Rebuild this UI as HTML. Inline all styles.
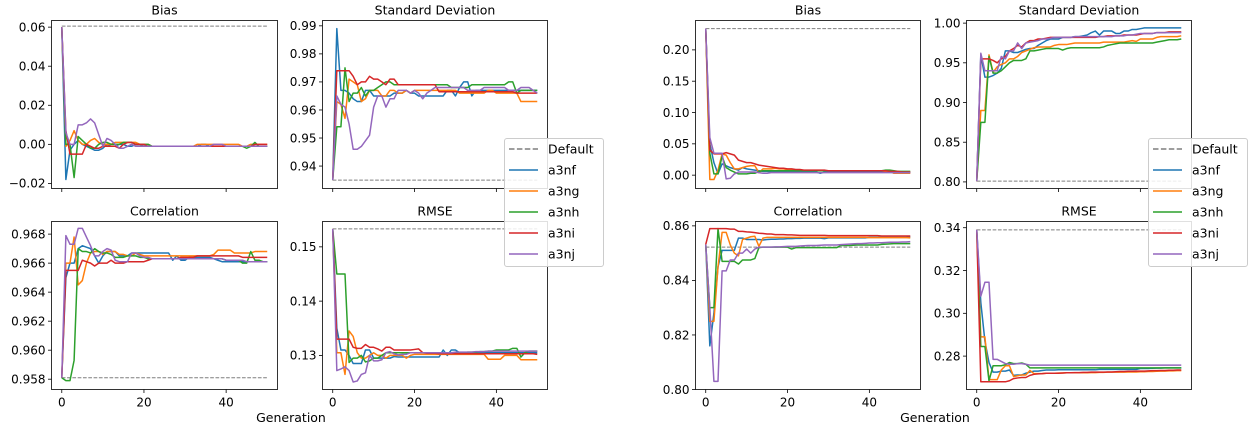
<!DOCTYPE html>
<html><head><meta charset="utf-8">
<style>
html,body{margin:0;padding:0;background:#fff;}
svg{display:block;font-family:"DejaVu Sans","Liberation Sans",sans-serif;}
</style></head>
<body>
<svg id="fig" width="1250" height="423" viewBox="0 0 1250 423" xmlns="http://www.w3.org/2000/svg"></svg>
<script>
const generations = Array.from({length:51},(_,i)=>i);
const seriesNames = ["a3nf","a3ng","a3nh","a3ni","a3nj"];
const xTickValues = [0,20,40];

// Left figure: Bias
const LB_f=[0.06,-0.018,-0.003,0,0.002,0,-0.001,-0.002,-0.003,-0.003,-0.002,0,-0.001,-0.001,0,0,-0.001,-0.001,0,0,-0.001,-0.001,-0.001,-0.001,-0.001,-0.001,-0.001,-0.001,-0.001,-0.001,-0.001,-0.001,-0.001,-0.001,0,0,-0.001,-0.001,-0.001,-0.001,-0.001,-0.001,-0.001,-0.001,-0.001,-0.001,-0.001,-0.001,-0.001,-0.001,-0.001];
const LB_g=[0.06,-0.001,0.002,0.007,0.002,0,0,0.002,0.003,0.001,0,0,0,0.001,0.001,0.001,0.001,0.001,0.001,0,0,0,-0.001,-0.001,-0.001,-0.001,-0.001,-0.001,-0.001,-0.001,-0.001,-0.001,-0.001,0,0,0,0,0,0,0,0,0,0,0,-0.001,-0.001,0,0,0,0,0];
const LB_h=[0.06,0,0,-0.017,0.004,0.002,0,-0.002,-0.002,0,0.001,0.001,0,0,0,0.001,0.001,0.001,0,0,0,0,-0.001,-0.001,-0.001,-0.001,-0.001,-0.001,-0.001,-0.001,-0.001,-0.001,-0.001,-0.001,-0.001,-0.001,-0.001,-0.001,-0.001,-0.001,-0.001,-0.001,-0.001,-0.001,-0.001,-0.002,-0.001,0.001,-0.001,-0.001,-0.001];
const LB_i=[0.06,0.007,-0.005,-0.005,-0.005,-0.005,0,-0.001,-0.002,-0.002,-0.001,-0.001,-0.001,-0.001,-0.002,0,0.001,0.001,0,0,0,-0.001,-0.001,-0.001,-0.001,-0.001,-0.001,-0.001,-0.001,-0.001,-0.001,-0.001,-0.001,-0.001,-0.001,-0.001,-0.001,-0.001,-0.001,-0.001,-0.001,-0.001,-0.001,-0.001,-0.001,-0.001,-0.001,0,0,0,0];
const LB_j=[0.06,0.006,0,0,0.010,0.010,0.011,0.013,0.011,0.005,-0.001,0.003,0.002,0,-0.002,-0.002,-0.001,0,-0.001,-0.001,-0.001,-0.001,-0.001,-0.001,-0.001,-0.001,-0.001,-0.001,-0.001,-0.001,-0.001,-0.001,-0.001,-0.001,-0.001,-0.001,-0.001,0,0,0,-0.001,-0.001,-0.001,-0.001,-0.001,-0.001,-0.001,-0.001,-0.001,-0.001,-0.001];
// Left: Standard deviation
const LSD_f=[0.935,0.989,0.967,0.967,0.966,0.964,0.963,0.963,0.967,0.967,0.965,0.965,0.965,0.965,0.965,0.966,0.966,0.966,0.967,0.966,0.966,0.965,0.965,0.965,0.965,0.965,0.965,0.965,0.967,0.967,0.965,0.968,0.970,0.970,0.965,0.967,0.967,0.967,0.967,0.967,0.967,0.967,0.967,0.967,0.967,0.967,0.967,0.967,0.967,0.967,0.967];
const LSD_g=[0.935,0.963,0.962,0.957,0.971,0.970,0.969,0.963,0.964,0.967,0.967,0.967,0.965,0.965,0.967,0.967,0.966,0.966,0.967,0.966,0.967,0.967,0.967,0.967,0.967,0.967,0.967,0.967,0.967,0.967,0.967,0.966,0.966,0.966,0.966,0.966,0.966,0.966,0.967,0.967,0.966,0.966,0.966,0.966,0.966,0.966,0.963,0.963,0.963,0.963,0.963];
const LSD_h=[0.935,0.954,0.954,0.975,0.963,0.966,0.966,0.968,0.965,0.967,0.967,0.968,0.969,0.970,0.970,0.969,0.969,0.969,0.969,0.969,0.969,0.969,0.969,0.969,0.969,0.969,0.969,0.969,0.969,0.968,0.968,0.968,0.968,0.968,0.969,0.969,0.969,0.969,0.969,0.969,0.969,0.969,0.969,0.970,0.970,0.966,0.967,0.967,0.967,0.967,0.967];
const LSD_i=[0.935,0.974,0.974,0.974,0.974,0.972,0.969,0.970,0.970,0.972,0.971,0.971,0.970,0.969,0.971,0.971,0.969,0.969,0.969,0.969,0.969,0.969,0.969,0.969,0.969,0.969,0.9665,0.9665,0.9665,0.9665,0.9665,0.9665,0.9665,0.9665,0.9665,0.9665,0.9665,0.9665,0.9665,0.9665,0.9665,0.9665,0.9665,0.9665,0.9665,0.966,0.966,0.966,0.966,0.966,0.966];
const LSD_j=[0.935,0.965,0.962,0.961,0.955,0.946,0.946,0.947,0.949,0.951,0.961,0.965,0.965,0.961,0.964,0.964,0.967,0.967,0.967,0.966,0.967,0.966,0.964,0.966,0.967,0.968,0.968,0.968,0.968,0.968,0.968,0.968,0.968,0.967,0.967,0.967,0.967,0.968,0.968,0.968,0.968,0.968,0.968,0.967,0.967,0.967,0.968,0.968,0.968,0.967,0.966];
// Left: Correlation
const LC_f=[0.9581,0.965,0.966,0.966,0.967,0.9672,0.9671,0.967,0.9665,0.966,0.9665,0.9668,0.9668,0.9668,0.9665,0.9665,0.9665,0.9667,0.9667,0.9667,0.9667,0.9667,0.9667,0.9667,0.9667,0.9667,0.9667,0.9662,0.9665,0.9662,0.9662,0.9664,0.9664,0.9664,0.9664,0.9664,0.9664,0.9663,0.9662,0.9661,0.9661,0.9661,0.9661,0.9661,0.9661,0.9661,0.9661,0.9661,0.9661,0.9661,0.9661];
const LC_g=[0.9581,0.966,0.966,0.9678,0.9645,0.9648,0.966,0.9667,0.9668,0.9668,0.9666,0.9668,0.9668,0.9668,0.9666,0.9666,0.9665,0.9665,0.9667,0.9666,0.9665,0.9665,0.9665,0.9665,0.9665,0.9665,0.9665,0.9665,0.9665,0.9665,0.9665,0.9665,0.9665,0.9665,0.9665,0.9665,0.9665,0.9666,0.9669,0.9669,0.9669,0.9669,0.9667,0.9667,0.9667,0.9667,0.9667,0.9668,0.9668,0.9668,0.9668];
const LC_h=[0.9581,0.9579,0.9579,0.9593,0.967,0.9668,0.9668,0.9667,0.967,0.9668,0.9667,0.9667,0.9666,0.9664,0.9664,0.9664,0.9665,0.9665,0.9665,0.9664,0.9664,0.9663,0.9663,0.9663,0.9663,0.9663,0.9663,0.9663,0.9663,0.9663,0.9663,0.9663,0.9663,0.9663,0.9663,0.9663,0.9663,0.9663,0.9663,0.9663,0.9662,0.9662,0.9662,0.9662,0.966,0.966,0.9668,0.9662,0.9662,0.9661,0.9661];
const LC_i=[0.9581,0.9655,0.9655,0.9655,0.9655,0.9662,0.9661,0.966,0.9658,0.966,0.966,0.966,0.9662,0.966,0.966,0.966,0.9661,0.9661,0.9661,0.9661,0.9661,0.9662,0.9663,0.9663,0.9663,0.9663,0.9663,0.9663,0.9663,0.9664,0.9664,0.9664,0.9664,0.9665,0.9665,0.9665,0.9665,0.9665,0.9665,0.9665,0.9665,0.9665,0.9665,0.9665,0.9664,0.9664,0.9664,0.9664,0.9664,0.9664,0.9664];
const LC_j=[0.9581,0.9679,0.9673,0.9673,0.9684,0.9684,0.9678,0.9672,0.9665,0.9665,0.9668,0.967,0.9669,0.9662,0.9661,0.9661,0.9661,0.9667,0.9667,0.9665,0.9664,0.9664,0.9663,0.9663,0.9663,0.9663,0.9663,0.9663,0.9663,0.9663,0.9663,0.9663,0.9663,0.9663,0.9663,0.9663,0.9663,0.9663,0.9663,0.9663,0.9662,0.9662,0.9662,0.9662,0.9662,0.9661,0.9661,0.9661,0.9661,0.9661,0.9661];
// Left: RMSE
const LR_f=[0.1533,0.135,0.131,0.131,0.130,0.1285,0.1285,0.1285,0.131,0.131,0.1295,0.1295,0.1295,0.1295,0.1295,0.1298,0.1297,0.1297,0.1297,0.1297,0.1297,0.1297,0.1297,0.1297,0.1297,0.1297,0.1297,0.131,0.130,0.131,0.131,0.1305,0.1305,0.1305,0.1305,0.1305,0.1305,0.1305,0.1305,0.1305,0.1305,0.1305,0.1305,0.1305,0.1305,0.1305,0.1305,0.1305,0.1305,0.1305,0.1305];
const LR_g=[0.1533,0.1305,0.1305,0.1265,0.1345,0.1335,0.1305,0.1295,0.1295,0.130,0.1305,0.130,0.130,0.1295,0.130,0.130,0.130,0.130,0.1295,0.130,0.1302,0.1302,0.1302,0.1302,0.1302,0.1302,0.1302,0.1302,0.1302,0.1302,0.1302,0.1302,0.1302,0.1302,0.1302,0.1302,0.1302,0.1302,0.1293,0.1293,0.1293,0.1293,0.130,0.130,0.130,0.130,0.1292,0.1292,0.1292,0.1292,0.1292];
const LR_h=[0.1533,0.145,0.145,0.145,0.1287,0.1295,0.1295,0.130,0.1288,0.129,0.1295,0.1295,0.130,0.1305,0.1305,0.1305,0.1305,0.1305,0.1305,0.1305,0.1305,0.1305,0.1305,0.1305,0.1305,0.1305,0.1305,0.1305,0.1305,0.1305,0.1305,0.1305,0.1305,0.1306,0.1306,0.1306,0.1307,0.1307,0.1308,0.1308,0.131,0.131,0.131,0.131,0.1313,0.1313,0.1297,0.1305,0.1308,0.1308,0.1308];
const LR_i=[0.1533,0.133,0.133,0.133,0.133,0.1315,0.1313,0.1313,0.132,0.1315,0.1315,0.1312,0.1308,0.1315,0.1315,0.131,0.131,0.131,0.131,0.131,0.1311,0.1312,0.1305,0.1304,0.1304,0.1304,0.1303,0.1303,0.1303,0.1303,0.1303,0.1303,0.1303,0.1303,0.1303,0.1303,0.1303,0.1303,0.1303,0.1303,0.1303,0.1303,0.1303,0.1303,0.1303,0.1303,0.1303,0.1303,0.1303,0.1303,0.1302];
const LR_j=[0.1533,0.1272,0.1275,0.1279,0.1272,0.1251,0.1253,0.1265,0.1268,0.130,0.129,0.129,0.1292,0.1305,0.1307,0.1303,0.1301,0.1302,0.1302,0.1305,0.1305,0.1305,0.1305,0.1305,0.1305,0.1305,0.1305,0.1305,0.1305,0.1305,0.1306,0.1306,0.1306,0.1306,0.1306,0.1307,0.1307,0.1307,0.1308,0.1308,0.1308,0.1308,0.1308,0.1308,0.1308,0.1308,0.1308,0.1308,0.1308,0.1308,0.1308];
// Right figure: Bias
const RB_f=[0.234,0.05,0.02,0.002,0.018,0.015,0.012,0.01,0.008,0.012,0.01,0.009,0.008,0.007,0.006,0.006,0.005,0.005,0.005,0.005,0.005,0.005,0.005,0.005,0.005,0.005,0.005,0.005,0.003,0.005,0.005,0.005,0.005,0.005,0.005,0.005,0.005,0.005,0.005,0.005,0.005,0.005,0.005,0.005,0.005,0.005,0.005,0.005,0.005,0.005,0.004];
const RB_g=[0.234,-0.007,-0.007,0.008,0.034,0.032,0.02,0.01,0.01,0.012,0.014,0.015,0.015,0.004,0.01,0.01,0.01,0.011,0.01,0.01,0.009,0.009,0.008,0.008,0.007,0.007,0.007,0.007,0.007,0.007,0.007,0.007,0.007,0.007,0.007,0.007,0.007,0.007,0.007,0.007,0.007,0.007,0.007,0.007,0.006,0.006,0.003,0.003,0.003,0.003,0.003];
const RB_h=[0.234,0.035,0.002,0.002,0.03,0.012,0.008,0.005,0.002,0.002,0.002,0.003,0.003,0.006,0.007,0.007,0.007,0.007,0.007,0.007,0.007,0.007,0.007,0.007,0.007,0.007,0.007,0.007,0.007,0.007,0.007,0.007,0.007,0.007,0.007,0.007,0.007,0.007,0.007,0.007,0.007,0.007,0.007,0.007,0.008,0.008,0.007,0.006,0.006,0.006,0.006];
const RB_i=[0.234,0.04,0.034,0.034,0.034,0.036,0.034,0.032,0.024,0.022,0.02,0.02,0.018,0.016,0.015,0.014,0.013,0.012,0.011,0.011,0.01,0.01,0.009,0.009,0.008,0.008,0.008,0.008,0.008,0.008,0.007,0.007,0.007,0.007,0.007,0.007,0.007,0.007,0.007,0.007,0.007,0.007,0.007,0.007,0.007,0.006,0.006,0.006,0.005,0.005,0.005];
const RB_j=[0.234,0.06,0.035,0.035,0.035,-0.006,-0.005,0.002,0.005,0.005,0.005,0.005,0.005,0.004,0.003,0.003,0.004,0.004,0.004,0.004,0.004,0.004,0.004,0.004,0.004,0.004,0.004,0.004,0.004,0.004,0.004,0.004,0.004,0.004,0.004,0.004,0.004,0.004,0.004,0.004,0.004,0.004,0.004,0.004,0.004,0.004,0.004,0.004,0.004,0.004,0.004];
// Right: Standard deviation
const RSD_f=[0.801,0.96,0.932,0.932,0.934,0.937,0.943,0.965,0.965,0.963,0.963,0.965,0.967,0.968,0.968,0.972,0.975,0.978,0.98,0.98,0.98,0.982,0.982,0.982,0.983,0.983,0.984,0.985,0.988,0.99,0.985,0.99,0.99,0.99,0.987,0.987,0.99,0.99,0.992,0.992,0.993,0.994,0.994,0.994,0.994,0.994,0.994,0.994,0.994,0.994,0.994];
const RSD_g=[0.801,0.89,0.89,0.96,0.938,0.945,0.948,0.95,0.955,0.955,0.958,0.963,0.965,0.967,0.969,0.97,0.97,0.97,0.97,0.972,0.973,0.973,0.973,0.974,0.975,0.975,0.975,0.975,0.975,0.975,0.975,0.976,0.976,0.976,0.976,0.976,0.976,0.977,0.978,0.977,0.98,0.98,0.98,0.98,0.982,0.983,0.983,0.983,0.983,0.983,0.984];
const RSD_h=[0.801,0.875,0.875,0.958,0.937,0.937,0.94,0.945,0.95,0.953,0.953,0.953,0.955,0.965,0.965,0.966,0.967,0.968,0.968,0.968,0.968,0.966,0.968,0.969,0.969,0.969,0.969,0.969,0.969,0.969,0.969,0.97,0.972,0.973,0.974,0.975,0.975,0.975,0.975,0.975,0.975,0.975,0.975,0.975,0.976,0.977,0.978,0.979,0.979,0.979,0.98];
const RSD_i=[0.801,0.955,0.955,0.955,0.953,0.95,0.955,0.958,0.965,0.968,0.972,0.97,0.975,0.978,0.978,0.98,0.98,0.981,0.982,0.982,0.982,0.982,0.982,0.982,0.982,0.982,0.982,0.982,0.982,0.982,0.983,0.983,0.984,0.984,0.984,0.984,0.985,0.985,0.985,0.985,0.986,0.987,0.987,0.987,0.988,0.988,0.988,0.989,0.989,0.989,0.989];
const RSD_j=[0.801,0.962,0.94,0.94,0.94,0.94,0.958,0.955,0.965,0.965,0.975,0.968,0.975,0.976,0.977,0.978,0.98,0.98,0.981,0.982,0.982,0.982,0.982,0.982,0.983,0.983,0.983,0.983,0.983,0.983,0.983,0.983,0.983,0.983,0.984,0.984,0.984,0.985,0.985,0.986,0.987,0.987,0.987,0.987,0.988,0.988,0.988,0.988,0.988,0.988,0.988];
// Right: Correlation
const RC_f=[0.8532,0.816,0.828,0.845,0.851,0.851,0.851,0.851,0.8555,0.8555,0.855,0.855,0.855,0.855,0.8548,0.855,0.8551,0.8551,0.8552,0.8552,0.8553,0.8553,0.8554,0.8554,0.8555,0.8555,0.8555,0.8555,0.8555,0.8553,0.8556,0.8556,0.8556,0.8556,0.8556,0.8556,0.8556,0.8556,0.8556,0.8556,0.8558,0.8558,0.8558,0.8558,0.8558,0.8558,0.8558,0.8558,0.8558,0.8558,0.856];
const RC_g=[0.8532,0.825,0.825,0.845,0.8576,0.8576,0.853,0.85,0.849,0.855,0.8555,0.856,0.8562,0.8525,0.8555,0.8558,0.8558,0.8558,0.8558,0.8558,0.8558,0.8558,0.8558,0.8558,0.8558,0.8558,0.8558,0.8558,0.8558,0.8558,0.8558,0.8558,0.8558,0.8558,0.8558,0.8558,0.8558,0.8558,0.8558,0.8558,0.8557,0.8557,0.8557,0.8557,0.8557,0.8557,0.8557,0.8557,0.8557,0.8557,0.8556];
const RC_h=[0.8532,0.83,0.83,0.859,0.847,0.847,0.847,0.847,0.846,0.8475,0.8475,0.8475,0.848,0.852,0.8522,0.8522,0.8522,0.8522,0.8522,0.8522,0.8522,0.8515,0.852,0.852,0.852,0.852,0.852,0.852,0.852,0.852,0.852,0.852,0.852,0.8528,0.8528,0.8528,0.8529,0.853,0.853,0.853,0.853,0.853,0.853,0.8532,0.8533,0.8534,0.8535,0.8535,0.8535,0.8535,0.8535];
const RC_i=[0.8532,0.859,0.859,0.859,0.859,0.859,0.8588,0.8588,0.858,0.858,0.8578,0.8577,0.8575,0.8573,0.8572,0.857,0.857,0.8568,0.8568,0.8568,0.8567,0.8567,0.8566,0.8565,0.8565,0.8565,0.8565,0.8565,0.8565,0.8565,0.8564,0.8564,0.8564,0.8564,0.8564,0.8564,0.8564,0.8564,0.8564,0.8564,0.8564,0.8564,0.8564,0.8563,0.8563,0.8563,0.8563,0.8563,0.8563,0.8563,0.8563];
const RC_j=[0.8532,0.83,0.803,0.803,0.8435,0.8435,0.8475,0.8475,0.85,0.85,0.8515,0.85,0.8515,0.8522,0.8522,0.8522,0.8522,0.8523,0.8523,0.8524,0.8525,0.8525,0.8525,0.8526,0.8527,0.8528,0.8528,0.8528,0.8529,0.853,0.853,0.853,0.853,0.8531,0.8532,0.8533,0.8534,0.8535,0.8535,0.8536,0.8537,0.8537,0.8538,0.8538,0.8539,0.854,0.854,0.854,0.8541,0.8541,0.8542];
// Right: RMSE
const RR_f=[0.339,0.305,0.287,0.277,0.2725,0.2725,0.273,0.273,0.2735,0.271,0.2712,0.2712,0.272,0.2725,0.273,0.273,0.2733,0.2735,0.2735,0.2735,0.2736,0.2736,0.2736,0.2736,0.2736,0.2736,0.2736,0.2736,0.2736,0.2736,0.2738,0.2738,0.2738,0.2738,0.2738,0.2738,0.2738,0.2738,0.2738,0.2738,0.2742,0.2742,0.2742,0.2743,0.2744,0.2744,0.2745,0.2745,0.2745,0.2745,0.2745];
const RR_g=[0.339,0.289,0.289,0.269,0.269,0.269,0.2735,0.2755,0.2755,0.2705,0.2708,0.2712,0.2712,0.2733,0.2718,0.2718,0.2718,0.272,0.272,0.272,0.2721,0.2721,0.2722,0.2722,0.2722,0.2722,0.2722,0.2722,0.2723,0.2723,0.2724,0.2724,0.2725,0.2725,0.2725,0.2725,0.2725,0.2726,0.2726,0.2726,0.2727,0.2727,0.2728,0.2728,0.2729,0.273,0.273,0.2731,0.2731,0.2732,0.2732];
const RR_h=[0.339,0.2845,0.2845,0.2685,0.2755,0.2755,0.2755,0.276,0.277,0.2765,0.2765,0.2768,0.2762,0.2745,0.2745,0.2745,0.2745,0.2745,0.2745,0.2745,0.2745,0.2745,0.2745,0.2745,0.2745,0.2745,0.2745,0.2745,0.2745,0.2745,0.2745,0.2745,0.2745,0.2745,0.2745,0.2745,0.2745,0.2745,0.2745,0.2745,0.2745,0.2745,0.2745,0.2745,0.2745,0.2745,0.2745,0.2745,0.2745,0.2745,0.2745];
const RR_i=[0.339,0.268,0.268,0.268,0.268,0.268,0.268,0.268,0.2685,0.2695,0.2698,0.27,0.27,0.271,0.2715,0.2717,0.2718,0.272,0.272,0.272,0.272,0.2721,0.2722,0.2722,0.2723,0.2723,0.2724,0.2724,0.2725,0.2725,0.2725,0.2725,0.2726,0.2726,0.2727,0.2728,0.2728,0.2729,0.2729,0.273,0.273,0.273,0.2731,0.2732,0.2732,0.2733,0.2733,0.2734,0.2734,0.2735,0.2735];
const RR_j=[0.339,0.308,0.3145,0.3145,0.2785,0.2785,0.2775,0.2765,0.2762,0.2762,0.2765,0.2765,0.2762,0.2758,0.2758,0.2758,0.2758,0.2758,0.2758,0.2758,0.2758,0.2758,0.2758,0.2758,0.2758,0.2758,0.2758,0.2758,0.2758,0.2758,0.2758,0.2758,0.2758,0.2758,0.2758,0.2758,0.2758,0.2758,0.2758,0.2758,0.2758,0.2758,0.2758,0.2758,0.2758,0.2758,0.2758,0.2758,0.2758,0.2758,0.2758];

// Default reference values
const defaultValues = {LB:0.0605, LSD:0.935, LC:0.9581, LR:0.1533, RB:0.234, RSD:0.801, RC:0.8522, RR:0.339};
// Tick values and labels
const LB_ticks=[-0.02,0,0.02,0.04,0.06], LB_labels=["\u22120.02","0.00","0.02","0.04","0.06"];
const LSD_ticks=[0.94,0.95,0.96,0.97,0.98,0.99], LSD_labels=["0.94","0.95","0.96","0.97","0.98","0.99"];
const LC_ticks=[0.958,0.96,0.962,0.964,0.966,0.968], LC_labels=["0.958","0.960","0.962","0.964","0.966","0.968"];
const LR_ticks=[0.13,0.14,0.15], LR_labels=["0.13","0.14","0.15"];
const RB_ticks=[0,0.05,0.1,0.15,0.2], RB_labels=["0.00","0.05","0.10","0.15","0.20"];
const RSD_ticks=[0.8,0.85,0.9,0.95,1.0], RSD_labels=["0.80","0.85","0.90","0.95","1.00"];
const RC_ticks=[0.8,0.82,0.84,0.86], RC_labels=["0.80","0.82","0.84","0.86"];
const RR_ticks=[0.28,0.3,0.32,0.34], RR_labels=["0.28","0.30","0.32","0.34"];

const colors=["#1f77b4","#ff7f0e","#2ca02c","#d62728","#9467bd"];
const NS="http://www.w3.org/2000/svg";
const svg=document.getElementById("fig");
function mk(tag,attrs,parent){const e=document.createElementNS(NS,tag);for(const k in attrs)e.setAttribute(k,attrs[k]);(parent||svg).appendChild(e);return e;}

const panels=[
 {id:"left-bias",title:"Bias",L:51.5,R:277.5,T:20.5,B:188.5,y0:-0.0226,y1:0.0634,series:[LB_f,LB_g,LB_h,LB_i,LB_j],def:defaultValues.LB,ticks:LB_ticks,labels:LB_labels,xl:false},
 {id:"left-std",title:"Standard Deviation",L:322.5,R:547.5,T:20.5,B:188.5,y0:0.9320,y1:0.9919,series:[LSD_f,LSD_g,LSD_h,LSD_i,LSD_j],def:defaultValues.LSD,ticks:LSD_ticks,labels:LSD_labels,xl:false},
 {id:"left-correlation",title:"Correlation",L:51.5,R:277.5,T:221.5,B:389.5,y0:0.95729,y1:0.96887,series:[LC_f,LC_g,LC_h,LC_i,LC_j],def:defaultValues.LC,ticks:LC_ticks,labels:LC_labels,xl:true},
 {id:"left-rmse",title:"RMSE",L:322.5,R:547.5,T:221.5,B:389.5,y0:0.12372,y1:0.15467,series:[LR_f,LR_g,LR_h,LR_i,LR_j],def:defaultValues.LR,ticks:LR_ticks,labels:LR_labels,xl:true},
 {id:"right-bias",title:"Bias",L:695.5,R:920.5,T:20.5,B:188.5,y0:-0.0213,y1:0.2469,series:[RB_f,RB_g,RB_h,RB_i,RB_j],def:defaultValues.RB,ticks:RB_ticks,labels:RB_labels,xl:false},
 {id:"right-std",title:"Standard Deviation",L:966.5,R:1191.5,T:20.5,B:188.5,y0:0.7917,y1:1.0033,series:[RSD_f,RSD_g,RSD_h,RSD_i,RSD_j],def:defaultValues.RSD,ticks:RSD_ticks,labels:RSD_labels,xl:false},
 {id:"right-correlation",title:"Correlation",L:695.5,R:920.5,T:221.5,B:389.5,y0:0.80,y1:0.8616,series:[RC_f,RC_g,RC_h,RC_i,RC_j],def:defaultValues.RC,ticks:RC_ticks,labels:RC_labels,xl:true},
 {id:"right-rmse",title:"RMSE",L:966.5,R:1191.5,T:221.5,B:389.5,y0:0.2644,y1:0.3429,series:[RR_f,RR_g,RR_h,RR_i,RR_j],def:defaultValues.RR,ticks:RR_ticks,labels:RR_labels,xl:true}
];

const defs=mk("defs",{});
panels.forEach((p,pi)=>{
  const g=mk("g",{});
  
  
  const xs=v=>p.L+(v+2.5)/55*(p.R-p.L);
  const ys=v=>p.B-(v-p.y0)/(p.y1-p.y0)*(p.B-p.T);
  const cp=mk("clipPath",{id:"clip"+pi},defs);
  mk("rect",{x:p.L,y:p.T,width:p.R-p.L,height:p.B-p.T},cp);
  // title
  const t=mk("text",{x:(p.L+p.R)/2,y:p.T-6,"text-anchor":"middle","font-size":"12.5",fill:"#000"},g);
  t.textContent=p.title;
  
  
  // y ticks
  p.ticks.forEach((v,i)=>{
    const y=ys(v);
    mk("line",{x1:p.L-3.5,x2:p.L,y1:y,y2:y,stroke:"#000","stroke-width":0.8},g);
    const tl=mk("text",{x:p.L-6,y:y+4.3,"text-anchor":"end","font-size":"12",fill:"#000"},g);
    tl.textContent=p.labels[i];
    
    
  });
  // x ticks
  xTickValues.forEach(v=>{
    const x=xs(v);
    mk("line",{x1:x,x2:x,y1:p.B,y2:p.B+3.5,stroke:"#000","stroke-width":0.8},g);
    if(p.xl){
      const tl=mk("text",{x:x,y:p.B+17,"text-anchor":"middle","font-size":"12",fill:"#000"},g);
      tl.textContent=String(v);
      
      
    }
  });
  const lg=mk("g",{"clip-path":"url(#clip"+pi+")"},g);
  // default line
  const dl=mk("line",{x1:xs(0),x2:xs(50),y1:ys(p.def),y2:ys(p.def),stroke:"#7f7f7f","stroke-width":1,"stroke-dasharray":"3.7,1.6"},lg);
  
  
  p.series.forEach((arr,si)=>{
    const d=arr.map((v,i)=>(i?"L":"M")+xs(generations[i]).toFixed(2)+","+ys(v).toFixed(2)).join("");
    const path=mk("path",{d:d,fill:"none",stroke:colors[si],"stroke-width":1.5,"stroke-linejoin":"round"},lg);
    
    
  });
  const fr=mk("rect",{x:p.L,y:p.T,width:p.R-p.L,height:p.B-p.T,fill:"none",stroke:"#000","stroke-width":0.8},g);
  
  
});

// x-axis titles
[[291,"left"],[935,"right"]].forEach(([x,s])=>{
  const t=mk("text",{x:x,y:422,"text-anchor":"middle","font-size":"12.5",fill:"#000"});
  t.textContent="Generation";
  
  
});

// legends
const legendNames=["Default"].concat(seriesNames);
[[504,"left"],[1148,"right"]].forEach(([lx,s])=>{
  const g=mk("g",{});
  
  
  mk("rect",{x:lx+0.5,y:138.5,width:99,height:128,rx:2.5,fill:"#fff","fill-opacity":0.85,stroke:"#cccccc","stroke-width":1},g);
  legendNames.forEach((n,i)=>{
    const y=149+i*21;
    const ln=mk("line",{x1:lx+5,x2:lx+34,y1:y,y2:y,stroke:i?colors[i-1]:"#7f7f7f","stroke-width":i?1.5:1.5,"stroke-dasharray":i?"none":"5.5,2.4"},g);
    
    
    const t=mk("text",{x:lx+44,y:y+4.5,"font-size":"12.5",fill:"#000"},g);
    t.textContent=n;
    
    
  });
});
</script>
</body></html>
